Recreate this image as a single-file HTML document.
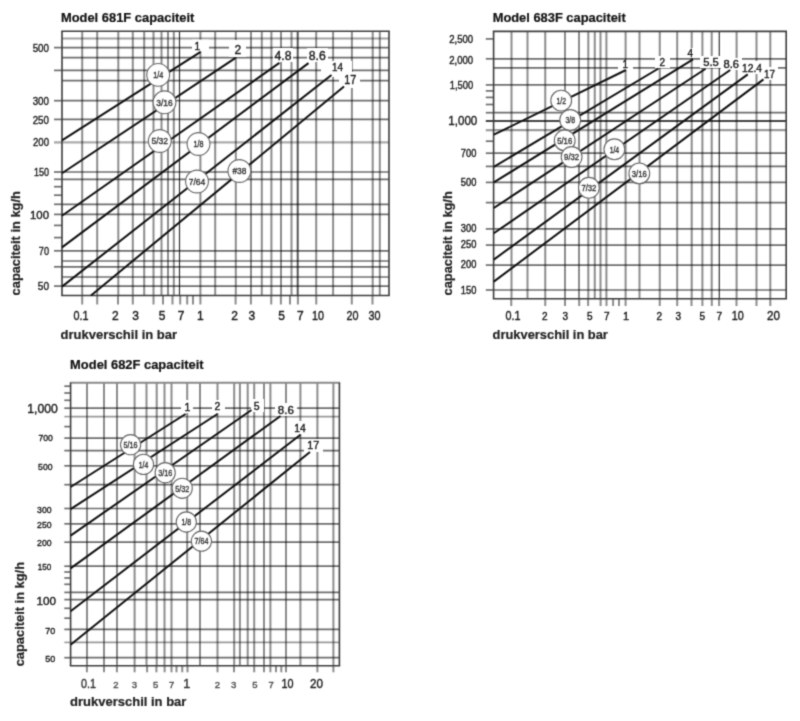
<!DOCTYPE html>
<html><head><meta charset="utf-8"><title>Capaciteit</title>
<style>
html,body{margin:0;padding:0;background:#fff;}
body{width:800px;height:721px;overflow:hidden;}
svg{display:block;font-family:"Liberation Sans",sans-serif;}
</style></head><body>
<svg width="800" height="721" viewBox="0 0 800 721">
<defs><filter id="bl" color-interpolation-filters="sRGB" x="0" y="0" width="800" height="721" filterUnits="userSpaceOnUse"><feConvolveMatrix order="3" kernelMatrix="0.02768 0.11101 0.02768 0.11101 0.44521 0.11101 0.02768 0.11101 0.02768" divisor="1" edgeMode="duplicate"/></filter></defs>
<g filter="url(#bl)">
<rect width="800" height="721" fill="#fff"/>
<line x1="62" y1="38.45" x2="389" y2="38.45" stroke="#000" stroke-opacity="0.373" stroke-width="2.0"/>
<line x1="62" y1="47.6" x2="389" y2="47.6" stroke="#000" stroke-opacity="0.569" stroke-width="1.7"/>
<line x1="62" y1="57.6" x2="389" y2="57.6" stroke="#000" stroke-opacity="0.569" stroke-width="1.7"/>
<line x1="62" y1="70.4" x2="389" y2="70.4" stroke="#000" stroke-opacity="0.569" stroke-width="1.7"/>
<line x1="62" y1="80.6" x2="389" y2="80.6" stroke="#000" stroke-opacity="0.569" stroke-width="1.7"/>
<line x1="62" y1="100.7" x2="389" y2="100.7" stroke="#000" stroke-opacity="0.569" stroke-width="1.7"/>
<line x1="62" y1="119.4" x2="389" y2="119.4" stroke="#000" stroke-opacity="0.569" stroke-width="1.7"/>
<line x1="62" y1="142.4" x2="389" y2="142.4" stroke="#000" stroke-opacity="0.333" stroke-width="2.4"/>
<line x1="62" y1="172.0" x2="389" y2="172.0" stroke="#000" stroke-opacity="0.569" stroke-width="1.7"/>
<line x1="62" y1="179.3" x2="389" y2="179.3" stroke="#000" stroke-opacity="0.569" stroke-width="1.7"/>
<line x1="62" y1="204.3" x2="389" y2="204.3" stroke="#000" stroke-opacity="0.569" stroke-width="1.7"/>
<line x1="62" y1="214.4" x2="389" y2="214.4" stroke="#000" stroke-opacity="0.569" stroke-width="1.7"/>
<line x1="62" y1="250.8" x2="389" y2="250.8" stroke="#000" stroke-opacity="0.569" stroke-width="1.7"/>
<line x1="62" y1="261" x2="389" y2="261" stroke="#000" stroke-opacity="0.569" stroke-width="1.7"/>
<line x1="62" y1="266.8" x2="389" y2="266.8" stroke="#000" stroke-opacity="0.569" stroke-width="1.7"/>
<line x1="62" y1="277" x2="389" y2="277" stroke="#000" stroke-opacity="0.569" stroke-width="1.7"/>
<line x1="62" y1="286.1" x2="389" y2="286.1" stroke="#000" stroke-opacity="0.569" stroke-width="1.7"/>
<line x1="54" y1="47.6" x2="62" y2="47.6" stroke="#000" stroke-opacity="0.569" stroke-width="1.7"/>
<line x1="54" y1="70.4" x2="62" y2="70.4" stroke="#000" stroke-opacity="0.569" stroke-width="1.7"/>
<line x1="54" y1="100.7" x2="62" y2="100.7" stroke="#000" stroke-opacity="0.569" stroke-width="1.7"/>
<line x1="54" y1="119.4" x2="62" y2="119.4" stroke="#000" stroke-opacity="0.569" stroke-width="1.7"/>
<line x1="54" y1="142.4" x2="62" y2="142.4" stroke="#000" stroke-opacity="0.333" stroke-width="2.4"/>
<line x1="54" y1="172.0" x2="62" y2="172.0" stroke="#000" stroke-opacity="0.569" stroke-width="1.7"/>
<line x1="54" y1="179.3" x2="62" y2="179.3" stroke="#000" stroke-opacity="0.569" stroke-width="1.7"/>
<line x1="54" y1="186.7" x2="62" y2="186.7" stroke="#000" stroke-opacity="0.569" stroke-width="1.7"/>
<line x1="54" y1="195.2" x2="62" y2="195.2" stroke="#000" stroke-opacity="0.569" stroke-width="1.7"/>
<line x1="54" y1="204.3" x2="62" y2="204.3" stroke="#000" stroke-opacity="0.569" stroke-width="1.7"/>
<line x1="54" y1="214.4" x2="62" y2="214.4" stroke="#000" stroke-opacity="0.569" stroke-width="1.7"/>
<line x1="54" y1="225.4" x2="62" y2="225.4" stroke="#000" stroke-opacity="0.569" stroke-width="1.7"/>
<line x1="54" y1="237.6" x2="62" y2="237.6" stroke="#000" stroke-opacity="0.569" stroke-width="1.7"/>
<line x1="54" y1="250.8" x2="62" y2="250.8" stroke="#000" stroke-opacity="0.569" stroke-width="1.7"/>
<line x1="54" y1="266.8" x2="62" y2="266.8" stroke="#000" stroke-opacity="0.569" stroke-width="1.7"/>
<line x1="54" y1="286.1" x2="62" y2="286.1" stroke="#000" stroke-opacity="0.569" stroke-width="1.7"/>
<line x1="82.2" y1="31.3" x2="82.2" y2="295.5" stroke="#000" stroke-opacity="0.451" stroke-width="2.0"/>
<line x1="97.2" y1="31.3" x2="97.2" y2="295.5" stroke="#000" stroke-opacity="0.451" stroke-width="2.0"/>
<line x1="118.3" y1="31.3" x2="118.3" y2="295.5" stroke="#000" stroke-opacity="0.451" stroke-width="2.0"/>
<line x1="132.8" y1="31.3" x2="132.8" y2="295.5" stroke="#000" stroke-opacity="0.451" stroke-width="2.0"/>
<line x1="144.2" y1="31.3" x2="144.2" y2="295.5" stroke="#000" stroke-opacity="0.451" stroke-width="2.0"/>
<line x1="153.5" y1="31.3" x2="153.5" y2="295.5" stroke="#000" stroke-opacity="0.451" stroke-width="2.0"/>
<line x1="161.5" y1="31.3" x2="161.5" y2="295.5" stroke="#000" stroke-opacity="0.451" stroke-width="2.0"/>
<line x1="168" y1="31.3" x2="168" y2="295.5" stroke="#000" stroke-opacity="0.451" stroke-width="2.0"/>
<line x1="173.8" y1="31.3" x2="173.8" y2="295.5" stroke="#000" stroke-opacity="0.451" stroke-width="2.0"/>
<line x1="179.5" y1="31.3" x2="179.5" y2="295.5" stroke="#000" stroke-opacity="0.800" stroke-width="1.2"/>
<line x1="200.4" y1="31.3" x2="200.4" y2="295.5" stroke="#000" stroke-opacity="0.451" stroke-width="2.0"/>
<line x1="215.2" y1="31.3" x2="215.2" y2="295.5" stroke="#000" stroke-opacity="0.451" stroke-width="2.0"/>
<line x1="235.8" y1="31.3" x2="235.8" y2="295.5" stroke="#000" stroke-opacity="0.451" stroke-width="2.0"/>
<line x1="251" y1="31.3" x2="251" y2="295.5" stroke="#000" stroke-opacity="0.451" stroke-width="2.0"/>
<line x1="261.8" y1="31.3" x2="261.8" y2="295.5" stroke="#000" stroke-opacity="0.451" stroke-width="2.0"/>
<line x1="271.4" y1="31.3" x2="271.4" y2="295.5" stroke="#000" stroke-opacity="0.451" stroke-width="2.0"/>
<line x1="281" y1="31.3" x2="281" y2="295.5" stroke="#000" stroke-opacity="0.451" stroke-width="2.0"/>
<line x1="291.5" y1="31.3" x2="291.5" y2="295.5" stroke="#000" stroke-opacity="0.451" stroke-width="2.0"/>
<line x1="297.7" y1="31.3" x2="297.7" y2="295.5" stroke="#000" stroke-opacity="0.667" stroke-width="2"/>
<line x1="316.2" y1="31.3" x2="316.2" y2="295.5" stroke="#000" stroke-opacity="0.451" stroke-width="2.0"/>
<line x1="333.1" y1="31.3" x2="333.1" y2="295.5" stroke="#000" stroke-opacity="0.451" stroke-width="2.0"/>
<line x1="351.9" y1="31.3" x2="351.9" y2="295.5" stroke="#000" stroke-opacity="0.451" stroke-width="2.0"/>
<line x1="372.7" y1="31.3" x2="372.7" y2="295.5" stroke="#000" stroke-opacity="0.451" stroke-width="2.0"/>
<line x1="379.8" y1="31.3" x2="379.8" y2="295.5" stroke="#000" stroke-opacity="0.451" stroke-width="2.0"/>
<line x1="82.2" y1="295.5" x2="82.2" y2="304.5" stroke="#000" stroke-opacity="0.451" stroke-width="2.0"/>
<line x1="97.2" y1="295.5" x2="97.2" y2="304.5" stroke="#000" stroke-opacity="0.451" stroke-width="2.0"/>
<line x1="118" y1="295.5" x2="118" y2="304.5" stroke="#000" stroke-opacity="0.451" stroke-width="2.0"/>
<line x1="132.8" y1="295.5" x2="132.8" y2="304.5" stroke="#000" stroke-opacity="0.451" stroke-width="2.0"/>
<line x1="153.5" y1="295.5" x2="153.5" y2="304.5" stroke="#000" stroke-opacity="0.451" stroke-width="2.0"/>
<line x1="163" y1="295.5" x2="163" y2="304.5" stroke="#000" stroke-opacity="0.451" stroke-width="2.0"/>
<line x1="172.5" y1="295.5" x2="172.5" y2="304.5" stroke="#000" stroke-opacity="0.451" stroke-width="2.0"/>
<line x1="180.2" y1="295.5" x2="180.2" y2="304.5" stroke="#000" stroke-opacity="0.451" stroke-width="2.0"/>
<line x1="187.2" y1="295.5" x2="187.2" y2="304.5" stroke="#000" stroke-opacity="0.451" stroke-width="2.0"/>
<line x1="193" y1="295.5" x2="193" y2="304.5" stroke="#000" stroke-opacity="0.451" stroke-width="2.0"/>
<line x1="200.4" y1="295.5" x2="200.4" y2="304.5" stroke="#000" stroke-opacity="0.451" stroke-width="2.0"/>
<line x1="235.6" y1="295.5" x2="235.6" y2="304.5" stroke="#000" stroke-opacity="0.451" stroke-width="2.0"/>
<line x1="250.9" y1="295.5" x2="250.9" y2="304.5" stroke="#000" stroke-opacity="0.451" stroke-width="2.0"/>
<line x1="271.25" y1="295.5" x2="271.25" y2="304.5" stroke="#000" stroke-opacity="0.451" stroke-width="2.0"/>
<line x1="280.9" y1="295.5" x2="280.9" y2="304.5" stroke="#000" stroke-opacity="0.451" stroke-width="2.0"/>
<line x1="290" y1="295.5" x2="290" y2="304.5" stroke="#000" stroke-opacity="0.451" stroke-width="2.0"/>
<line x1="297.9" y1="295.5" x2="297.9" y2="304.5" stroke="#000" stroke-opacity="0.451" stroke-width="2.0"/>
<line x1="316.25" y1="295.5" x2="316.25" y2="304.5" stroke="#000" stroke-opacity="0.451" stroke-width="2.0"/>
<line x1="351.8" y1="295.5" x2="351.8" y2="304.5" stroke="#000" stroke-opacity="0.451" stroke-width="2.0"/>
<line x1="372.5" y1="295.5" x2="372.5" y2="304.5" stroke="#000" stroke-opacity="0.451" stroke-width="2.0"/>
<line x1="61.2" y1="31.3" x2="389.8" y2="31.3" stroke="#3c3c3c" stroke-width="1.6"/>
<line x1="61.2" y1="295.5" x2="389.8" y2="295.5" stroke="#3c3c3c" stroke-width="1.6"/>
<line x1="62" y1="31.3" x2="62" y2="295.5" stroke="#3c3c3c" stroke-width="1.6"/>
<line x1="389" y1="31.3" x2="389" y2="295.5" stroke="#3c3c3c" stroke-width="1.6"/>
<rect x="192" y="39.6" width="17" height="11.6" fill="#fff"/>
<rect x="229" y="40" width="17" height="17" fill="#fff"/>
<rect x="273" y="48" width="20" height="14" fill="#fff"/>
<rect x="307" y="48" width="21" height="14" fill="#fff"/>
<rect x="321" y="61" width="31" height="16" fill="#fff"/>
<rect x="339" y="72" width="21" height="16" fill="#fff"/>
<line x1="62" y1="140.4" x2="200.6" y2="51.9" stroke="#111" stroke-width="2" stroke-linecap="butt"/>
<line x1="62" y1="173.25" x2="235.6" y2="57.9" stroke="#111" stroke-width="2" stroke-linecap="butt"/>
<line x1="62" y1="215.8" x2="279.4" y2="62.9" stroke="#111" stroke-width="2" stroke-linecap="butt"/>
<line x1="62" y1="247.4" x2="308.5" y2="63.1" stroke="#111" stroke-width="2" stroke-linecap="butt"/>
<line x1="62" y1="286.6" x2="331.5" y2="75" stroke="#111" stroke-width="2" stroke-linecap="butt"/>
<line x1="91" y1="295.4" x2="344" y2="86.6" stroke="#111" stroke-width="2" stroke-linecap="butt"/>
<text x="194.5" y="49.5" font-size="10" text-anchor="start" fill="#1c1c1c" stroke="#1c1c1c" stroke-width="0.4">1</text>
<text x="234.5" y="54.2" font-size="12" text-anchor="start" fill="#1c1c1c" stroke="#1c1c1c" stroke-width="0.4">2</text>
<text x="274.5" y="60.4" font-size="12" text-anchor="start" fill="#1c1c1c" stroke="#1c1c1c" stroke-width="0.4" textLength="17" lengthAdjust="spacingAndGlyphs">4.8</text>
<text x="308.8" y="60.4" font-size="12" text-anchor="start" fill="#1c1c1c" stroke="#1c1c1c" stroke-width="0.4" textLength="17" lengthAdjust="spacingAndGlyphs">8.6</text>
<text x="332" y="70.8" font-size="10.5" text-anchor="start" fill="#1c1c1c" stroke="#1c1c1c" stroke-width="0.4" textLength="11" lengthAdjust="spacingAndGlyphs">14</text>
<text x="344.3" y="83.5" font-size="12" text-anchor="start" fill="#1c1c1c" stroke="#1c1c1c" stroke-width="0.4" textLength="12" lengthAdjust="spacingAndGlyphs">17</text>
<circle cx="158.2" cy="74.9" r="11.4" fill="#fff" stroke="#666" stroke-width="1.1"/>
<text x="158.2" y="78.212" font-size="9.2" text-anchor="middle" fill="#383838" stroke="#383838" stroke-width="0.4" textLength="10" lengthAdjust="spacingAndGlyphs">1/4</text>
<circle cx="164.5" cy="102.3" r="11.4" fill="#fff" stroke="#666" stroke-width="1.1"/>
<text x="164.5" y="105.612" font-size="9.2" text-anchor="middle" fill="#383838" stroke="#383838" stroke-width="0.4" textLength="16.5" lengthAdjust="spacingAndGlyphs">3/16</text>
<circle cx="159.8" cy="141" r="11.4" fill="#fff" stroke="#666" stroke-width="1.1"/>
<text x="159.8" y="144.312" font-size="9.2" text-anchor="middle" fill="#383838" stroke="#383838" stroke-width="0.4" textLength="16.5" lengthAdjust="spacingAndGlyphs">5/32</text>
<circle cx="198.5" cy="144" r="11.4" fill="#fff" stroke="#666" stroke-width="1.1"/>
<text x="198.5" y="147.312" font-size="9.2" text-anchor="middle" fill="#383838" stroke="#383838" stroke-width="0.4" textLength="10" lengthAdjust="spacingAndGlyphs">1/8</text>
<circle cx="197" cy="181.5" r="11.4" fill="#fff" stroke="#666" stroke-width="1.1"/>
<text x="197" y="184.812" font-size="9.2" text-anchor="middle" fill="#383838" stroke="#383838" stroke-width="0.4" textLength="16.5" lengthAdjust="spacingAndGlyphs">7/64</text>
<circle cx="239.4" cy="171" r="11.4" fill="#fff" stroke="#666" stroke-width="1.1"/>
<text x="239.4" y="174.312" font-size="9.2" text-anchor="middle" fill="#383838" stroke="#383838" stroke-width="0.4" textLength="14" lengthAdjust="spacingAndGlyphs">#38</text>
<text x="49" y="51.84" font-size="11.5" text-anchor="end" fill="#1c1c1c" stroke="#1c1c1c" stroke-width="0.4" textLength="16.3" lengthAdjust="spacingAndGlyphs">500</text>
<text x="49" y="105.04" font-size="11.5" text-anchor="end" fill="#1c1c1c" stroke="#1c1c1c" stroke-width="0.4" textLength="16.3" lengthAdjust="spacingAndGlyphs">300</text>
<text x="49" y="123.64" font-size="11.5" text-anchor="end" fill="#1c1c1c" stroke="#1c1c1c" stroke-width="0.4" textLength="16.3" lengthAdjust="spacingAndGlyphs">250</text>
<text x="49" y="146.44" font-size="11.5" text-anchor="end" fill="#1c1c1c" stroke="#1c1c1c" stroke-width="0.4" textLength="16" lengthAdjust="spacingAndGlyphs">200</text>
<text x="49" y="176.04" font-size="11.5" text-anchor="end" fill="#1c1c1c" stroke="#1c1c1c" stroke-width="0.4" textLength="15" lengthAdjust="spacingAndGlyphs">150</text>
<text x="49" y="218.54" font-size="11.5" text-anchor="end" fill="#1c1c1c" stroke="#1c1c1c" stroke-width="0.4" textLength="19" lengthAdjust="spacingAndGlyphs">100</text>
<text x="49" y="254.64" font-size="11.5" text-anchor="end" fill="#1c1c1c" stroke="#1c1c1c" stroke-width="0.4" textLength="10.2" lengthAdjust="spacingAndGlyphs">70</text>
<text x="49" y="289.53999999999996" font-size="11.5" text-anchor="end" fill="#1c1c1c" stroke="#1c1c1c" stroke-width="0.4" textLength="11.2" lengthAdjust="spacingAndGlyphs">50</text>
<text x="81" y="320.0" font-size="12" text-anchor="middle" fill="#1c1c1c" stroke="#1c1c1c" stroke-width="0.4" textLength="15" lengthAdjust="spacingAndGlyphs">0.1</text>
<text x="115.3" y="320.0" font-size="12" text-anchor="middle" fill="#1c1c1c" stroke="#1c1c1c" stroke-width="0.4">2</text>
<text x="135.5" y="320.0" font-size="12" text-anchor="middle" fill="#1c1c1c" stroke="#1c1c1c" stroke-width="0.4">3</text>
<text x="162" y="320.0" font-size="12" text-anchor="middle" fill="#1c1c1c" stroke="#1c1c1c" stroke-width="0.4">5</text>
<text x="181" y="320.0" font-size="12" text-anchor="middle" fill="#1c1c1c" stroke="#1c1c1c" stroke-width="0.4">7</text>
<text x="200.4" y="320.0" font-size="12" text-anchor="middle" fill="#1c1c1c" stroke="#1c1c1c" stroke-width="0.4">1</text>
<text x="234.6" y="320.0" font-size="12" text-anchor="middle" fill="#1c1c1c" stroke="#1c1c1c" stroke-width="0.4">2</text>
<text x="251.75" y="320.0" font-size="12" text-anchor="middle" fill="#1c1c1c" stroke="#1c1c1c" stroke-width="0.4">3</text>
<text x="281.6" y="320.0" font-size="12" text-anchor="middle" fill="#1c1c1c" stroke="#1c1c1c" stroke-width="0.4">5</text>
<text x="300.4" y="320.0" font-size="12" text-anchor="middle" fill="#1c1c1c" stroke="#1c1c1c" stroke-width="0.4">7</text>
<text x="318.1" y="320.0" font-size="12" text-anchor="middle" fill="#1c1c1c" stroke="#1c1c1c" stroke-width="0.4" textLength="12" lengthAdjust="spacingAndGlyphs">10</text>
<text x="352.6" y="320.0" font-size="12" text-anchor="middle" fill="#1c1c1c" stroke="#1c1c1c" stroke-width="0.4" textLength="12" lengthAdjust="spacingAndGlyphs">20</text>
<text x="374.5" y="320.0" font-size="12" text-anchor="middle" fill="#1c1c1c" stroke="#1c1c1c" stroke-width="0.4" textLength="12" lengthAdjust="spacingAndGlyphs">30</text>
<text x="60.9" y="22" font-size="12.7" text-anchor="start" fill="#111" font-weight="bold" stroke="#111" stroke-width="0.2" textLength="133.5" lengthAdjust="spacingAndGlyphs">Model 681F capaciteit</text>
<text x="60.6" y="338.8" font-size="12.8" text-anchor="start" fill="#222" font-weight="bold" stroke="#222" stroke-width="0.2" textLength="116.5" lengthAdjust="spacingAndGlyphs">drukverschil in bar</text>
<text x="20" y="295.4" font-size="12.8" text-anchor="start" fill="#222" font-weight="bold" stroke="#222" stroke-width="0.2" textLength="104.2" lengthAdjust="spacingAndGlyphs" transform="rotate(-90 20 295.4)">capaciteit in kg/h</text>
<line x1="493.6" y1="58.8" x2="786.2" y2="58.8" stroke="#000" stroke-opacity="0.569" stroke-width="1.7"/>
<line x1="493.6" y1="67.9" x2="786.2" y2="67.9" stroke="#000" stroke-opacity="0.569" stroke-width="1.7"/>
<line x1="493.6" y1="84.9" x2="786.2" y2="84.9" stroke="#000" stroke-opacity="0.569" stroke-width="1.7"/>
<line x1="493.6" y1="112.7" x2="786.2" y2="112.7" stroke="#000" stroke-opacity="0.569" stroke-width="1.7"/>
<line x1="493.6" y1="121.0" x2="786.2" y2="121.0" stroke="#000" stroke-opacity="0.733" stroke-width="2"/>
<line x1="493.6" y1="130.2" x2="786.2" y2="130.2" stroke="#000" stroke-opacity="0.396" stroke-width="2.2"/>
<line x1="493.6" y1="153.2" x2="786.2" y2="153.2" stroke="#000" stroke-opacity="0.569" stroke-width="1.7"/>
<line x1="493.6" y1="166.4" x2="786.2" y2="166.4" stroke="#000" stroke-opacity="0.569" stroke-width="1.7"/>
<line x1="493.6" y1="182.4" x2="786.2" y2="182.4" stroke="#000" stroke-opacity="0.569" stroke-width="1.7"/>
<line x1="493.6" y1="202.6" x2="786.2" y2="202.6" stroke="#000" stroke-opacity="0.569" stroke-width="1.7"/>
<line x1="493.6" y1="228.9" x2="786.2" y2="228.9" stroke="#000" stroke-opacity="0.569" stroke-width="1.7"/>
<line x1="493.6" y1="245.1" x2="786.2" y2="245.1" stroke="#000" stroke-opacity="0.569" stroke-width="1.7"/>
<line x1="493.6" y1="265.1" x2="786.2" y2="265.1" stroke="#000" stroke-opacity="0.569" stroke-width="1.7"/>
<line x1="493.6" y1="290.0" x2="786.2" y2="290.0" stroke="#000" stroke-opacity="0.569" stroke-width="1.7"/>
<line x1="485.8" y1="38.9" x2="493.6" y2="38.9" stroke="#000" stroke-opacity="0.569" stroke-width="1.7"/>
<line x1="485.8" y1="58.8" x2="493.6" y2="58.8" stroke="#000" stroke-opacity="0.569" stroke-width="1.7"/>
<line x1="485.8" y1="84.9" x2="493.6" y2="84.9" stroke="#000" stroke-opacity="0.569" stroke-width="1.7"/>
<line x1="485.8" y1="90.9" x2="493.6" y2="90.9" stroke="#000" stroke-opacity="0.569" stroke-width="1.7"/>
<line x1="485.8" y1="97.4" x2="493.6" y2="97.4" stroke="#000" stroke-opacity="0.569" stroke-width="1.7"/>
<line x1="485.8" y1="104.5" x2="493.6" y2="104.5" stroke="#000" stroke-opacity="0.569" stroke-width="1.7"/>
<line x1="485.8" y1="112.7" x2="493.6" y2="112.7" stroke="#000" stroke-opacity="0.569" stroke-width="1.7"/>
<line x1="485.8" y1="121.0" x2="493.6" y2="121.0" stroke="#000" stroke-opacity="0.733" stroke-width="2"/>
<line x1="485.8" y1="130.2" x2="493.6" y2="130.2" stroke="#000" stroke-opacity="0.396" stroke-width="2.2"/>
<line x1="485.8" y1="141.2" x2="493.6" y2="141.2" stroke="#000" stroke-opacity="0.569" stroke-width="1.7"/>
<line x1="485.8" y1="153.2" x2="493.6" y2="153.2" stroke="#000" stroke-opacity="0.569" stroke-width="1.7"/>
<line x1="485.8" y1="166.4" x2="493.6" y2="166.4" stroke="#000" stroke-opacity="0.569" stroke-width="1.7"/>
<line x1="485.8" y1="182.4" x2="493.6" y2="182.4" stroke="#000" stroke-opacity="0.569" stroke-width="1.7"/>
<line x1="485.8" y1="202.6" x2="493.6" y2="202.6" stroke="#000" stroke-opacity="0.569" stroke-width="1.7"/>
<line x1="485.8" y1="228.9" x2="493.6" y2="228.9" stroke="#000" stroke-opacity="0.569" stroke-width="1.7"/>
<line x1="485.8" y1="245.1" x2="493.6" y2="245.1" stroke="#000" stroke-opacity="0.569" stroke-width="1.7"/>
<line x1="485.8" y1="265.1" x2="493.6" y2="265.1" stroke="#000" stroke-opacity="0.569" stroke-width="1.7"/>
<line x1="485.8" y1="290.0" x2="493.6" y2="290.0" stroke="#000" stroke-opacity="0.569" stroke-width="1.7"/>
<line x1="511.5" y1="31.4" x2="511.5" y2="298.8" stroke="#000" stroke-opacity="0.451" stroke-width="2.0"/>
<line x1="527.5" y1="31.4" x2="527.5" y2="298.8" stroke="#000" stroke-opacity="0.451" stroke-width="2.0"/>
<line x1="545.25" y1="31.4" x2="545.25" y2="298.8" stroke="#000" stroke-opacity="0.451" stroke-width="2.0"/>
<line x1="565" y1="31.4" x2="565" y2="298.8" stroke="#000" stroke-opacity="0.451" stroke-width="2.0"/>
<line x1="579" y1="31.4" x2="579" y2="298.8" stroke="#000" stroke-opacity="0.451" stroke-width="2.0"/>
<line x1="588.3" y1="31.4" x2="588.3" y2="298.8" stroke="#000" stroke-opacity="0.451" stroke-width="2.0"/>
<line x1="594.75" y1="31.4" x2="594.75" y2="298.8" stroke="#000" stroke-opacity="0.451" stroke-width="2.0"/>
<line x1="600.5" y1="31.4" x2="600.5" y2="298.8" stroke="#000" stroke-opacity="0.451" stroke-width="2.0"/>
<line x1="606.4" y1="31.4" x2="606.4" y2="298.8" stroke="#000" stroke-opacity="0.451" stroke-width="2.0"/>
<line x1="625.6" y1="31.4" x2="625.6" y2="298.8" stroke="#000" stroke-opacity="0.451" stroke-width="2.0"/>
<line x1="639.5" y1="31.4" x2="639.5" y2="298.8" stroke="#000" stroke-opacity="0.451" stroke-width="2.0"/>
<line x1="659.75" y1="31.4" x2="659.75" y2="298.8" stroke="#000" stroke-opacity="0.451" stroke-width="2.0"/>
<line x1="677.2" y1="31.4" x2="677.2" y2="298.8" stroke="#000" stroke-opacity="0.451" stroke-width="2.0"/>
<line x1="691.7" y1="31.4" x2="691.7" y2="298.8" stroke="#000" stroke-opacity="0.451" stroke-width="2.0"/>
<line x1="702.4" y1="31.4" x2="702.4" y2="298.8" stroke="#000" stroke-opacity="0.451" stroke-width="2.0"/>
<line x1="711.7" y1="31.4" x2="711.7" y2="298.8" stroke="#000" stroke-opacity="0.451" stroke-width="2.0"/>
<line x1="719.3" y1="31.4" x2="719.3" y2="298.8" stroke="#000" stroke-opacity="0.800" stroke-width="1.2"/>
<line x1="736.6" y1="31.4" x2="736.6" y2="298.8" stroke="#000" stroke-opacity="0.451" stroke-width="2.0"/>
<line x1="756.5" y1="31.4" x2="756.5" y2="298.8" stroke="#000" stroke-opacity="0.451" stroke-width="2.0"/>
<line x1="770.3" y1="31.4" x2="770.3" y2="298.8" stroke="#000" stroke-opacity="0.451" stroke-width="2.0"/>
<line x1="511.25" y1="298.8" x2="511.25" y2="306" stroke="#000" stroke-opacity="0.451" stroke-width="2.0"/>
<line x1="545.25" y1="298.8" x2="545.25" y2="306" stroke="#000" stroke-opacity="0.451" stroke-width="2.0"/>
<line x1="565" y1="298.8" x2="565" y2="306" stroke="#000" stroke-opacity="0.451" stroke-width="2.0"/>
<line x1="579.2" y1="298.8" x2="579.2" y2="306" stroke="#000" stroke-opacity="0.451" stroke-width="2.0"/>
<line x1="588.1" y1="298.8" x2="588.1" y2="306" stroke="#000" stroke-opacity="0.451" stroke-width="2.0"/>
<line x1="600.6" y1="298.8" x2="600.6" y2="306" stroke="#000" stroke-opacity="0.451" stroke-width="2.0"/>
<line x1="606.5" y1="298.8" x2="606.5" y2="306" stroke="#000" stroke-opacity="0.451" stroke-width="2.0"/>
<line x1="613.1" y1="298.8" x2="613.1" y2="306" stroke="#000" stroke-opacity="0.451" stroke-width="2.0"/>
<line x1="619" y1="298.8" x2="619" y2="306" stroke="#000" stroke-opacity="0.451" stroke-width="2.0"/>
<line x1="625.6" y1="298.8" x2="625.6" y2="306" stroke="#000" stroke-opacity="0.451" stroke-width="2.0"/>
<line x1="659.75" y1="298.8" x2="659.75" y2="306" stroke="#000" stroke-opacity="0.451" stroke-width="2.0"/>
<line x1="677.2" y1="298.8" x2="677.2" y2="306" stroke="#000" stroke-opacity="0.451" stroke-width="2.0"/>
<line x1="691.5" y1="298.8" x2="691.5" y2="306" stroke="#000" stroke-opacity="0.451" stroke-width="2.0"/>
<line x1="702.4" y1="298.8" x2="702.4" y2="306" stroke="#000" stroke-opacity="0.451" stroke-width="2.0"/>
<line x1="711.8" y1="298.8" x2="711.8" y2="306" stroke="#000" stroke-opacity="0.451" stroke-width="2.0"/>
<line x1="719.1" y1="298.8" x2="719.1" y2="306" stroke="#000" stroke-opacity="0.451" stroke-width="2.0"/>
<line x1="736.5" y1="298.8" x2="736.5" y2="306" stroke="#000" stroke-opacity="0.451" stroke-width="2.0"/>
<line x1="756.5" y1="298.8" x2="756.5" y2="306" stroke="#000" stroke-opacity="0.451" stroke-width="2.0"/>
<line x1="770.3" y1="298.8" x2="770.3" y2="306" stroke="#000" stroke-opacity="0.451" stroke-width="2.0"/>
<line x1="492.8" y1="31.4" x2="787.0" y2="31.4" stroke="#3c3c3c" stroke-width="1.6"/>
<line x1="492.8" y1="298.8" x2="787.0" y2="298.8" stroke="#3c3c3c" stroke-width="1.6"/>
<line x1="493.6" y1="31.4" x2="493.6" y2="298.8" stroke="#3c3c3c" stroke-width="1.6"/>
<line x1="786.2" y1="31.4" x2="786.2" y2="298.8" stroke="#3c3c3c" stroke-width="1.6"/>
<rect x="618" y="60" width="15" height="10" fill="#fff"/>
<rect x="655" y="56" width="15" height="12" fill="#fff"/>
<rect x="684" y="48" width="14" height="10" fill="#fff"/>
<rect x="700" y="56" width="22" height="12" fill="#fff"/>
<rect x="721" y="58" width="21" height="12" fill="#fff"/>
<rect x="740" y="61" width="25" height="13" fill="#fff"/>
<rect x="762" y="67" width="16" height="13" fill="#fff"/>
<line x1="493.8" y1="134.7" x2="626" y2="70" stroke="#111" stroke-width="2" stroke-linecap="butt"/>
<line x1="493.8" y1="166.9" x2="658.5" y2="68.5" stroke="#111" stroke-width="2" stroke-linecap="butt"/>
<line x1="493.8" y1="182.4" x2="693" y2="59.4" stroke="#111" stroke-width="2" stroke-linecap="butt"/>
<line x1="493.8" y1="208" x2="705.6" y2="68.75" stroke="#111" stroke-width="2" stroke-linecap="butt"/>
<line x1="493.8" y1="233.3" x2="730.25" y2="70" stroke="#111" stroke-width="2" stroke-linecap="butt"/>
<line x1="493.8" y1="259.6" x2="747.75" y2="74.4" stroke="#111" stroke-width="2" stroke-linecap="butt"/>
<line x1="493.8" y1="281.6" x2="763.5" y2="79.4" stroke="#111" stroke-width="2" stroke-linecap="butt"/>
<text x="622.5" y="68" font-size="10" text-anchor="start" fill="#1c1c1c" stroke="#1c1c1c" stroke-width="0.4">1</text>
<text x="659.5" y="66.2" font-size="10" text-anchor="start" fill="#1c1c1c" stroke="#1c1c1c" stroke-width="0.4">2</text>
<text x="687.6" y="56.8" font-size="10" text-anchor="start" fill="#1c1c1c" stroke="#1c1c1c" stroke-width="0.4">4</text>
<text x="703.3" y="66.2" font-size="10.5" text-anchor="start" fill="#1c1c1c" stroke="#1c1c1c" stroke-width="0.4" textLength="15.5" lengthAdjust="spacingAndGlyphs">5.5</text>
<text x="723.5" y="68" font-size="10.5" text-anchor="start" fill="#1c1c1c" stroke="#1c1c1c" stroke-width="0.4" textLength="15.5" lengthAdjust="spacingAndGlyphs">8.6</text>
<text x="742" y="72.2" font-size="10.5" text-anchor="start" fill="#1c1c1c" stroke="#1c1c1c" stroke-width="0.4" textLength="20" lengthAdjust="spacingAndGlyphs">12.4</text>
<text x="764" y="78" font-size="10.5" text-anchor="start" fill="#1c1c1c" stroke="#1c1c1c" stroke-width="0.4" textLength="11" lengthAdjust="spacingAndGlyphs">17</text>
<circle cx="561.2" cy="100.6" r="10.4" fill="#fff" stroke="#666" stroke-width="1.1"/>
<text x="561.2" y="103.83999999999999" font-size="9" text-anchor="middle" fill="#383838" stroke="#383838" stroke-width="0.4" textLength="9.5" lengthAdjust="spacingAndGlyphs">1/2</text>
<circle cx="570.2" cy="120" r="10.4" fill="#fff" stroke="#666" stroke-width="1.1"/>
<text x="570.2" y="123.24" font-size="9" text-anchor="middle" fill="#383838" stroke="#383838" stroke-width="0.4" textLength="9.5" lengthAdjust="spacingAndGlyphs">3/8</text>
<circle cx="564.7" cy="140.4" r="10.4" fill="#fff" stroke="#666" stroke-width="1.1"/>
<text x="564.7" y="143.64000000000001" font-size="9" text-anchor="middle" fill="#383838" stroke="#383838" stroke-width="0.4" textLength="15" lengthAdjust="spacingAndGlyphs">5/16</text>
<circle cx="571.6" cy="157" r="10.4" fill="#fff" stroke="#666" stroke-width="1.1"/>
<text x="571.6" y="160.24" font-size="9" text-anchor="middle" fill="#383838" stroke="#383838" stroke-width="0.4" textLength="15" lengthAdjust="spacingAndGlyphs">9/32</text>
<circle cx="614.4" cy="149.3" r="10.4" fill="#fff" stroke="#666" stroke-width="1.1"/>
<text x="614.4" y="152.54000000000002" font-size="9" text-anchor="middle" fill="#383838" stroke="#383838" stroke-width="0.4" textLength="9.5" lengthAdjust="spacingAndGlyphs">1/4</text>
<circle cx="639.3" cy="173.4" r="10.4" fill="#fff" stroke="#666" stroke-width="1.1"/>
<text x="639.3" y="176.64000000000001" font-size="9" text-anchor="middle" fill="#383838" stroke="#383838" stroke-width="0.4" textLength="15" lengthAdjust="spacingAndGlyphs">3/16</text>
<circle cx="588.9" cy="187.8" r="10.4" fill="#fff" stroke="#666" stroke-width="1.1"/>
<text x="588.9" y="191.04000000000002" font-size="9" text-anchor="middle" fill="#383838" stroke="#383838" stroke-width="0.4" textLength="15" lengthAdjust="spacingAndGlyphs">7/32</text>
<text x="473.2" y="43.488" font-size="10.8" text-anchor="end" fill="#1c1c1c" stroke="#1c1c1c" stroke-width="0.4" textLength="24" lengthAdjust="spacingAndGlyphs">2,500</text>
<text x="473.2" y="63.588" font-size="10.8" text-anchor="end" fill="#1c1c1c" stroke="#1c1c1c" stroke-width="0.4" textLength="24" lengthAdjust="spacingAndGlyphs">2,000</text>
<text x="473.2" y="89.388" font-size="10.8" text-anchor="end" fill="#1c1c1c" stroke="#1c1c1c" stroke-width="0.4" textLength="23.5" lengthAdjust="spacingAndGlyphs">1,500</text>
<text x="477.3" y="125.208" font-size="12.8" text-anchor="end" fill="#1c1c1c" stroke="#1c1c1c" stroke-width="0.4" textLength="29" lengthAdjust="spacingAndGlyphs">1,000</text>
<text x="476.3" y="157.1" font-size="10" text-anchor="end" fill="#1c1c1c" stroke="#1c1c1c" stroke-width="0.4" textLength="15.5" lengthAdjust="spacingAndGlyphs">700</text>
<text x="476.3" y="186.0" font-size="10" text-anchor="end" fill="#1c1c1c" stroke="#1c1c1c" stroke-width="0.4" textLength="15.5" lengthAdjust="spacingAndGlyphs">500</text>
<text x="476.3" y="232.4" font-size="10" text-anchor="end" fill="#1c1c1c" stroke="#1c1c1c" stroke-width="0.4" textLength="15.5" lengthAdjust="spacingAndGlyphs">300</text>
<text x="476.3" y="248.4" font-size="10" text-anchor="end" fill="#1c1c1c" stroke="#1c1c1c" stroke-width="0.4" textLength="15.5" lengthAdjust="spacingAndGlyphs">250</text>
<text x="476.3" y="268.1" font-size="10" text-anchor="end" fill="#1c1c1c" stroke="#1c1c1c" stroke-width="0.4" textLength="15.5" lengthAdjust="spacingAndGlyphs">200</text>
<text x="476.3" y="293.8" font-size="10" text-anchor="end" fill="#1c1c1c" stroke="#1c1c1c" stroke-width="0.4" textLength="15.5" lengthAdjust="spacingAndGlyphs">150</text>
<text x="513" y="319.6" font-size="12" text-anchor="middle" fill="#1c1c1c" stroke="#1c1c1c" stroke-width="0.4" textLength="15" lengthAdjust="spacingAndGlyphs">0.1</text>
<text x="544.7" y="319.6" font-size="10" text-anchor="middle" fill="#1c1c1c" stroke="#1c1c1c" stroke-width="0.4">2</text>
<text x="565.25" y="319.6" font-size="10" text-anchor="middle" fill="#1c1c1c" stroke="#1c1c1c" stroke-width="0.4">3</text>
<text x="589.7" y="319.6" font-size="10" text-anchor="middle" fill="#1c1c1c" stroke="#1c1c1c" stroke-width="0.4">5</text>
<text x="606.9" y="319.6" font-size="10" text-anchor="middle" fill="#1c1c1c" stroke="#1c1c1c" stroke-width="0.4">7</text>
<text x="626" y="319.6" font-size="11" text-anchor="middle" fill="#1c1c1c" stroke="#1c1c1c" stroke-width="0.4">1</text>
<text x="659.4" y="319.6" font-size="10" text-anchor="middle" fill="#1c1c1c" stroke="#1c1c1c" stroke-width="0.4">2</text>
<text x="678.4" y="319.6" font-size="10" text-anchor="middle" fill="#1c1c1c" stroke="#1c1c1c" stroke-width="0.4">3</text>
<text x="702.4" y="319.6" font-size="10" text-anchor="middle" fill="#1c1c1c" stroke="#1c1c1c" stroke-width="0.4">5</text>
<text x="719.3" y="319.6" font-size="10" text-anchor="middle" fill="#1c1c1c" stroke="#1c1c1c" stroke-width="0.4">7</text>
<text x="737.7" y="319.6" font-size="12" text-anchor="middle" fill="#1c1c1c" stroke="#1c1c1c" stroke-width="0.4" textLength="12" lengthAdjust="spacingAndGlyphs">10</text>
<text x="773.5" y="319.6" font-size="12" text-anchor="middle" fill="#1c1c1c" stroke="#1c1c1c" stroke-width="0.4" textLength="13" lengthAdjust="spacingAndGlyphs">20</text>
<text x="492.7" y="22" font-size="12.7" text-anchor="start" fill="#111" font-weight="bold" stroke="#111" stroke-width="0.2" textLength="133" lengthAdjust="spacingAndGlyphs">Model 683F capaciteit</text>
<text x="492.6" y="338.5" font-size="12.8" text-anchor="start" fill="#222" font-weight="bold" stroke="#222" stroke-width="0.2" textLength="115.3" lengthAdjust="spacingAndGlyphs">drukverschil in bar</text>
<text x="451.7" y="295.4" font-size="12.8" text-anchor="start" fill="#222" font-weight="bold" stroke="#222" stroke-width="0.2" textLength="104.2" lengthAdjust="spacingAndGlyphs" transform="rotate(-90 451.7 295.4)">capaciteit in kg/h</text>
<line x1="70.6" y1="408.2" x2="339.4" y2="408.2" stroke="#000" stroke-opacity="0.569" stroke-width="1.7"/>
<line x1="70.6" y1="416.6" x2="339.4" y2="416.6" stroke="#000" stroke-opacity="0.400" stroke-width="1.6"/>
<line x1="70.6" y1="438.1" x2="339.4" y2="438.1" stroke="#000" stroke-opacity="0.569" stroke-width="1.7"/>
<line x1="70.6" y1="450.6" x2="339.4" y2="450.6" stroke="#000" stroke-opacity="0.569" stroke-width="1.7"/>
<line x1="70.6" y1="465.8" x2="339.4" y2="465.8" stroke="#000" stroke-opacity="0.569" stroke-width="1.7"/>
<line x1="70.6" y1="484.7" x2="339.4" y2="484.7" stroke="#000" stroke-opacity="0.569" stroke-width="1.7"/>
<line x1="70.6" y1="508.5" x2="339.4" y2="508.5" stroke="#000" stroke-opacity="0.569" stroke-width="1.7"/>
<line x1="70.6" y1="523.8" x2="339.4" y2="523.8" stroke="#000" stroke-opacity="0.569" stroke-width="1.7"/>
<line x1="70.6" y1="542.2" x2="339.4" y2="542.2" stroke="#000" stroke-opacity="0.569" stroke-width="1.7"/>
<line x1="70.6" y1="566.2" x2="339.4" y2="566.2" stroke="#000" stroke-opacity="0.569" stroke-width="1.7"/>
<line x1="70.6" y1="592.4" x2="339.4" y2="592.4" stroke="#000" stroke-opacity="0.569" stroke-width="1.7"/>
<line x1="70.6" y1="599.6" x2="339.4" y2="599.6" stroke="#000" stroke-opacity="0.569" stroke-width="1.7"/>
<line x1="70.6" y1="629.4" x2="339.4" y2="629.4" stroke="#000" stroke-opacity="0.569" stroke-width="1.7"/>
<line x1="70.6" y1="642.4" x2="339.4" y2="642.4" stroke="#000" stroke-opacity="0.400" stroke-width="1.6"/>
<line x1="70.6" y1="657.7" x2="339.4" y2="657.7" stroke="#000" stroke-opacity="0.569" stroke-width="1.7"/>
<line x1="64.3" y1="386.2" x2="70.6" y2="386.2" stroke="#000" stroke-opacity="0.569" stroke-width="1.7"/>
<line x1="64.3" y1="393.0" x2="70.6" y2="393.0" stroke="#000" stroke-opacity="0.569" stroke-width="1.7"/>
<line x1="64.3" y1="400.3" x2="70.6" y2="400.3" stroke="#000" stroke-opacity="0.569" stroke-width="1.7"/>
<line x1="64.3" y1="408.2" x2="70.6" y2="408.2" stroke="#000" stroke-opacity="0.569" stroke-width="1.7"/>
<line x1="64.3" y1="416.6" x2="70.6" y2="416.6" stroke="#000" stroke-opacity="0.400" stroke-width="1.6"/>
<line x1="64.3" y1="426.6" x2="70.6" y2="426.6" stroke="#000" stroke-opacity="0.569" stroke-width="1.7"/>
<line x1="64.3" y1="438.1" x2="70.6" y2="438.1" stroke="#000" stroke-opacity="0.569" stroke-width="1.7"/>
<line x1="64.3" y1="450.6" x2="70.6" y2="450.6" stroke="#000" stroke-opacity="0.569" stroke-width="1.7"/>
<line x1="64.3" y1="465.8" x2="70.6" y2="465.8" stroke="#000" stroke-opacity="0.569" stroke-width="1.7"/>
<line x1="64.3" y1="484.7" x2="70.6" y2="484.7" stroke="#000" stroke-opacity="0.569" stroke-width="1.7"/>
<line x1="64.3" y1="508.5" x2="70.6" y2="508.5" stroke="#000" stroke-opacity="0.569" stroke-width="1.7"/>
<line x1="64.3" y1="523.8" x2="70.6" y2="523.8" stroke="#000" stroke-opacity="0.569" stroke-width="1.7"/>
<line x1="64.3" y1="542.2" x2="70.6" y2="542.2" stroke="#000" stroke-opacity="0.569" stroke-width="1.7"/>
<line x1="64.3" y1="566.2" x2="70.6" y2="566.2" stroke="#000" stroke-opacity="0.569" stroke-width="1.7"/>
<line x1="64.3" y1="572" x2="70.6" y2="572" stroke="#000" stroke-opacity="0.569" stroke-width="1.7"/>
<line x1="64.3" y1="578" x2="70.6" y2="578" stroke="#000" stroke-opacity="0.569" stroke-width="1.7"/>
<line x1="64.3" y1="584.3" x2="70.6" y2="584.3" stroke="#000" stroke-opacity="0.569" stroke-width="1.7"/>
<line x1="64.3" y1="592.4" x2="70.6" y2="592.4" stroke="#000" stroke-opacity="0.569" stroke-width="1.7"/>
<line x1="64.3" y1="599.6" x2="70.6" y2="599.6" stroke="#000" stroke-opacity="0.569" stroke-width="1.7"/>
<line x1="64.3" y1="608.3" x2="70.6" y2="608.3" stroke="#000" stroke-opacity="0.569" stroke-width="1.7"/>
<line x1="64.3" y1="618.2" x2="70.6" y2="618.2" stroke="#000" stroke-opacity="0.569" stroke-width="1.7"/>
<line x1="64.3" y1="629.4" x2="70.6" y2="629.4" stroke="#000" stroke-opacity="0.569" stroke-width="1.7"/>
<line x1="64.3" y1="642.4" x2="70.6" y2="642.4" stroke="#000" stroke-opacity="0.400" stroke-width="1.6"/>
<line x1="64.3" y1="657.7" x2="70.6" y2="657.7" stroke="#000" stroke-opacity="0.569" stroke-width="1.7"/>
<line x1="87.0" y1="382.7" x2="87.0" y2="665.8" stroke="#000" stroke-opacity="0.451" stroke-width="2.0"/>
<line x1="104" y1="382.7" x2="104" y2="665.8" stroke="#000" stroke-opacity="0.451" stroke-width="2.0"/>
<line x1="117" y1="382.7" x2="117" y2="665.8" stroke="#000" stroke-opacity="0.451" stroke-width="2.0"/>
<line x1="134.6" y1="382.7" x2="134.6" y2="665.8" stroke="#000" stroke-opacity="0.451" stroke-width="2.0"/>
<line x1="146.5" y1="382.7" x2="146.5" y2="665.8" stroke="#000" stroke-opacity="0.451" stroke-width="2.0"/>
<line x1="156.7" y1="382.7" x2="156.7" y2="665.8" stroke="#000" stroke-opacity="0.451" stroke-width="2.0"/>
<line x1="164.5" y1="382.7" x2="164.5" y2="665.8" stroke="#000" stroke-opacity="0.451" stroke-width="2.0"/>
<line x1="171.5" y1="382.7" x2="171.5" y2="665.8" stroke="#000" stroke-opacity="0.451" stroke-width="2.0"/>
<line x1="187.2" y1="382.7" x2="187.2" y2="665.8" stroke="#000" stroke-opacity="0.451" stroke-width="2.0"/>
<line x1="200" y1="382.7" x2="200" y2="665.8" stroke="#000" stroke-opacity="0.451" stroke-width="2.0"/>
<line x1="217.5" y1="382.7" x2="217.5" y2="665.8" stroke="#000" stroke-opacity="0.451" stroke-width="2.0"/>
<line x1="234.2" y1="382.7" x2="234.2" y2="665.8" stroke="#000" stroke-opacity="0.451" stroke-width="2.0"/>
<line x1="239.9" y1="382.7" x2="239.9" y2="665.8" stroke="#000" stroke-opacity="0.451" stroke-width="2.0"/>
<line x1="247.7" y1="382.7" x2="247.7" y2="665.8" stroke="#000" stroke-opacity="0.451" stroke-width="2.0"/>
<line x1="254.2" y1="382.7" x2="254.2" y2="665.8" stroke="#000" stroke-opacity="0.451" stroke-width="2.0"/>
<line x1="264" y1="382.7" x2="264" y2="665.8" stroke="#000" stroke-opacity="0.451" stroke-width="2.0"/>
<line x1="270.4" y1="382.7" x2="270.4" y2="665.8" stroke="#000" stroke-opacity="0.451" stroke-width="2.0"/>
<line x1="286" y1="382.7" x2="286" y2="665.8" stroke="#000" stroke-opacity="0.451" stroke-width="2.0"/>
<line x1="300.4" y1="382.7" x2="300.4" y2="665.8" stroke="#000" stroke-opacity="0.451" stroke-width="2.0"/>
<line x1="317.4" y1="382.7" x2="317.4" y2="665.8" stroke="#000" stroke-opacity="0.451" stroke-width="2.0"/>
<line x1="333.4" y1="382.7" x2="333.4" y2="665.8" stroke="#000" stroke-opacity="0.451" stroke-width="2.0"/>
<line x1="86.9" y1="665.8" x2="86.9" y2="672.3" stroke="#000" stroke-opacity="0.451" stroke-width="2.0"/>
<line x1="104" y1="665.8" x2="104" y2="672.3" stroke="#000" stroke-opacity="0.451" stroke-width="2.0"/>
<line x1="116.9" y1="665.8" x2="116.9" y2="672.3" stroke="#000" stroke-opacity="0.451" stroke-width="2.0"/>
<line x1="134.6" y1="665.8" x2="134.6" y2="672.3" stroke="#000" stroke-opacity="0.451" stroke-width="2.0"/>
<line x1="147.1" y1="665.8" x2="147.1" y2="672.3" stroke="#000" stroke-opacity="0.451" stroke-width="2.0"/>
<line x1="156.4" y1="665.8" x2="156.4" y2="672.3" stroke="#000" stroke-opacity="0.451" stroke-width="2.0"/>
<line x1="164.6" y1="665.8" x2="164.6" y2="672.3" stroke="#000" stroke-opacity="0.451" stroke-width="2.0"/>
<line x1="171.5" y1="665.8" x2="171.5" y2="672.3" stroke="#000" stroke-opacity="0.451" stroke-width="2.0"/>
<line x1="176.5" y1="665.8" x2="176.5" y2="672.3" stroke="#000" stroke-opacity="0.451" stroke-width="2.0"/>
<line x1="182.25" y1="665.8" x2="182.25" y2="672.3" stroke="#000" stroke-opacity="0.451" stroke-width="2.0"/>
<line x1="187.5" y1="665.8" x2="187.5" y2="672.3" stroke="#000" stroke-opacity="0.451" stroke-width="2.0"/>
<line x1="217.5" y1="665.8" x2="217.5" y2="672.3" stroke="#000" stroke-opacity="0.451" stroke-width="2.0"/>
<line x1="234" y1="665.8" x2="234" y2="672.3" stroke="#000" stroke-opacity="0.451" stroke-width="2.0"/>
<line x1="254.2" y1="665.8" x2="254.2" y2="672.3" stroke="#000" stroke-opacity="0.451" stroke-width="2.0"/>
<line x1="264" y1="665.8" x2="264" y2="672.3" stroke="#000" stroke-opacity="0.451" stroke-width="2.0"/>
<line x1="270.4" y1="665.8" x2="270.4" y2="672.3" stroke="#000" stroke-opacity="0.451" stroke-width="2.0"/>
<line x1="276" y1="665.8" x2="276" y2="672.3" stroke="#000" stroke-opacity="0.451" stroke-width="2.0"/>
<line x1="281.3" y1="665.8" x2="281.3" y2="672.3" stroke="#000" stroke-opacity="0.451" stroke-width="2.0"/>
<line x1="286" y1="665.8" x2="286" y2="672.3" stroke="#000" stroke-opacity="0.451" stroke-width="2.0"/>
<line x1="317.4" y1="665.8" x2="317.4" y2="672.3" stroke="#000" stroke-opacity="0.451" stroke-width="2.0"/>
<line x1="333.4" y1="665.8" x2="333.4" y2="672.3" stroke="#000" stroke-opacity="0.451" stroke-width="2.0"/>
<line x1="69.8" y1="382.7" x2="340.2" y2="382.7" stroke="#8a8a8a" stroke-width="2.0"/>
<line x1="69.8" y1="665.8" x2="340.2" y2="665.8" stroke="#3c3c3c" stroke-width="1.6"/>
<line x1="70.6" y1="382.7" x2="70.6" y2="665.8" stroke="#3c3c3c" stroke-width="1.6"/>
<line x1="339.4" y1="382.7" x2="339.4" y2="665.8" stroke="#3c3c3c" stroke-width="1.6"/>
<rect x="181" y="400" width="12" height="13" fill="#fff"/>
<rect x="212" y="400" width="13" height="13" fill="#fff"/>
<rect x="251" y="399" width="13" height="13" fill="#fff"/>
<rect x="275" y="403" width="22" height="13" fill="#fff"/>
<rect x="291" y="421" width="18" height="13" fill="#fff"/>
<rect x="304" y="439" width="19" height="13" fill="#fff"/>
<line x1="70.6" y1="487" x2="185.6" y2="414" stroke="#111" stroke-width="2" stroke-linecap="butt"/>
<line x1="70.6" y1="509.2" x2="217.5" y2="414" stroke="#111" stroke-width="2" stroke-linecap="butt"/>
<line x1="70.6" y1="535.6" x2="251.5" y2="410" stroke="#111" stroke-width="2" stroke-linecap="butt"/>
<line x1="70.6" y1="568.4" x2="280.5" y2="416" stroke="#111" stroke-width="2" stroke-linecap="butt"/>
<line x1="70.6" y1="611.3" x2="300.5" y2="434.8" stroke="#111" stroke-width="2" stroke-linecap="butt"/>
<line x1="70.6" y1="644.7" x2="310" y2="452" stroke="#111" stroke-width="2" stroke-linecap="butt"/>
<text x="184.5" y="411" font-size="10.5" text-anchor="start" fill="#1c1c1c" stroke="#1c1c1c" stroke-width="0.4">1</text>
<text x="214.5" y="410.4" font-size="10.5" text-anchor="start" fill="#1c1c1c" stroke="#1c1c1c" stroke-width="0.4">2</text>
<text x="253.8" y="409.8" font-size="10.5" text-anchor="start" fill="#1c1c1c" stroke="#1c1c1c" stroke-width="0.4">5</text>
<text x="277.8" y="413.8" font-size="11" text-anchor="start" fill="#1c1c1c" stroke="#1c1c1c" stroke-width="0.4" textLength="16" lengthAdjust="spacingAndGlyphs">8.6</text>
<text x="294.2" y="431.8" font-size="11" text-anchor="start" fill="#1c1c1c" stroke="#1c1c1c" stroke-width="0.4" textLength="11.5" lengthAdjust="spacingAndGlyphs">14</text>
<text x="307.2" y="448.8" font-size="11" text-anchor="start" fill="#1c1c1c" stroke="#1c1c1c" stroke-width="0.4" textLength="12" lengthAdjust="spacingAndGlyphs">17</text>
<circle cx="130.6" cy="444.7" r="10.1" fill="#fff" stroke="#666" stroke-width="1.1"/>
<text x="130.6" y="447.94" font-size="9" text-anchor="middle" fill="#383838" stroke="#383838" stroke-width="0.4" textLength="14" lengthAdjust="spacingAndGlyphs">5/16</text>
<circle cx="143.5" cy="464.4" r="10.1" fill="#fff" stroke="#666" stroke-width="1.1"/>
<text x="143.5" y="467.64" font-size="9" text-anchor="middle" fill="#383838" stroke="#383838" stroke-width="0.4" textLength="9.5" lengthAdjust="spacingAndGlyphs">1/4</text>
<circle cx="165.2" cy="472.7" r="10.1" fill="#fff" stroke="#666" stroke-width="1.1"/>
<text x="165.2" y="475.94" font-size="9" text-anchor="middle" fill="#383838" stroke="#383838" stroke-width="0.4" textLength="14" lengthAdjust="spacingAndGlyphs">3/16</text>
<circle cx="182.2" cy="488.3" r="10.1" fill="#fff" stroke="#666" stroke-width="1.1"/>
<text x="182.2" y="491.54" font-size="9" text-anchor="middle" fill="#383838" stroke="#383838" stroke-width="0.4" textLength="14" lengthAdjust="spacingAndGlyphs">5/32</text>
<circle cx="186.3" cy="522" r="10.1" fill="#fff" stroke="#666" stroke-width="1.1"/>
<text x="186.3" y="525.24" font-size="9" text-anchor="middle" fill="#383838" stroke="#383838" stroke-width="0.4" textLength="9.5" lengthAdjust="spacingAndGlyphs">1/8</text>
<circle cx="201.4" cy="541.2" r="10.1" fill="#fff" stroke="#666" stroke-width="1.1"/>
<text x="201.4" y="544.44" font-size="9" text-anchor="middle" fill="#383838" stroke="#383838" stroke-width="0.4" textLength="14" lengthAdjust="spacingAndGlyphs">7/64</text>
<text x="57.8" y="413.1" font-size="12.5" text-anchor="end" fill="#1c1c1c" stroke="#1c1c1c" stroke-width="0.4" textLength="30.5" lengthAdjust="spacingAndGlyphs">1,000</text>
<text x="52.8" y="441.42" font-size="9.5" text-anchor="end" fill="#1c1c1c" stroke="#1c1c1c" stroke-width="0.4" textLength="14.4" lengthAdjust="spacingAndGlyphs">700</text>
<text x="52.5" y="470.22" font-size="9.5" text-anchor="end" fill="#1c1c1c" stroke="#1c1c1c" stroke-width="0.4" textLength="14.4" lengthAdjust="spacingAndGlyphs">500</text>
<text x="51.5" y="512.62" font-size="9.5" text-anchor="end" fill="#1c1c1c" stroke="#1c1c1c" stroke-width="0.4" textLength="14.4" lengthAdjust="spacingAndGlyphs">300</text>
<text x="51.5" y="527.7199999999999" font-size="9.5" text-anchor="end" fill="#1c1c1c" stroke="#1c1c1c" stroke-width="0.4" textLength="14.4" lengthAdjust="spacingAndGlyphs">250</text>
<text x="51.5" y="545.92" font-size="9.5" text-anchor="end" fill="#1c1c1c" stroke="#1c1c1c" stroke-width="0.4" textLength="14.4" lengthAdjust="spacingAndGlyphs">200</text>
<text x="51.2" y="570.12" font-size="9.5" text-anchor="end" fill="#1c1c1c" stroke="#1c1c1c" stroke-width="0.4" textLength="13.5" lengthAdjust="spacingAndGlyphs">150</text>
<text x="56" y="604.64" font-size="11.5" text-anchor="end" fill="#1c1c1c" stroke="#1c1c1c" stroke-width="0.4" textLength="19.5" lengthAdjust="spacingAndGlyphs">100</text>
<text x="55.3" y="633.7199999999999" font-size="9.5" text-anchor="end" fill="#1c1c1c" stroke="#1c1c1c" stroke-width="0.4" textLength="10" lengthAdjust="spacingAndGlyphs">70</text>
<text x="55.3" y="661.62" font-size="9.5" text-anchor="end" fill="#1c1c1c" stroke="#1c1c1c" stroke-width="0.4" textLength="10" lengthAdjust="spacingAndGlyphs">50</text>
<text x="88.4" y="688.4" font-size="12.5" text-anchor="middle" fill="#333" stroke="#333" stroke-width="0.4" textLength="15" lengthAdjust="spacingAndGlyphs">0.1</text>
<text x="116" y="688.4" font-size="9.5" text-anchor="middle" fill="#505050" stroke="#505050" stroke-width="0.4">2</text>
<text x="134.4" y="688.4" font-size="9.5" text-anchor="middle" fill="#505050" stroke="#505050" stroke-width="0.4">3</text>
<text x="155.6" y="688.4" font-size="9.5" text-anchor="middle" fill="#505050" stroke="#505050" stroke-width="0.4">5</text>
<text x="171.6" y="688.4" font-size="9.5" text-anchor="middle" fill="#505050" stroke="#505050" stroke-width="0.4">7</text>
<text x="186.7" y="688.4" font-size="12.5" text-anchor="middle" fill="#333" stroke="#333" stroke-width="0.4">1</text>
<text x="217.5" y="688.4" font-size="9.5" text-anchor="middle" fill="#505050" stroke="#505050" stroke-width="0.4">2</text>
<text x="233.75" y="688.4" font-size="9.5" text-anchor="middle" fill="#505050" stroke="#505050" stroke-width="0.4">3</text>
<text x="255" y="688.4" font-size="9.5" text-anchor="middle" fill="#505050" stroke="#505050" stroke-width="0.4">5</text>
<text x="271.2" y="688.4" font-size="9.5" text-anchor="middle" fill="#505050" stroke="#505050" stroke-width="0.4">7</text>
<text x="287.5" y="688.4" font-size="12.5" text-anchor="middle" fill="#1c1c1c" stroke="#1c1c1c" stroke-width="0.4" textLength="12" lengthAdjust="spacingAndGlyphs">10</text>
<text x="316.5" y="688.4" font-size="12.5" text-anchor="middle" fill="#1c1c1c" stroke="#1c1c1c" stroke-width="0.4" textLength="13" lengthAdjust="spacingAndGlyphs">20</text>
<text x="70.1" y="368.8" font-size="12.7" text-anchor="start" fill="#111" font-weight="bold" stroke="#111" stroke-width="0.2" textLength="133.5" lengthAdjust="spacingAndGlyphs">Model 682F capaciteit</text>
<text x="70.1" y="705.9" font-size="12.8" text-anchor="start" fill="#222" font-weight="bold" stroke="#222" stroke-width="0.2" textLength="116.3" lengthAdjust="spacingAndGlyphs">drukverschil in bar</text>
<text x="24.2" y="666.3" font-size="12.8" text-anchor="start" fill="#222" font-weight="bold" stroke="#222" stroke-width="0.2" textLength="104.3" lengthAdjust="spacingAndGlyphs" transform="rotate(-90 24.2 666.3)">capaciteit in kg/h</text>
</g>
</svg>
</body></html>
